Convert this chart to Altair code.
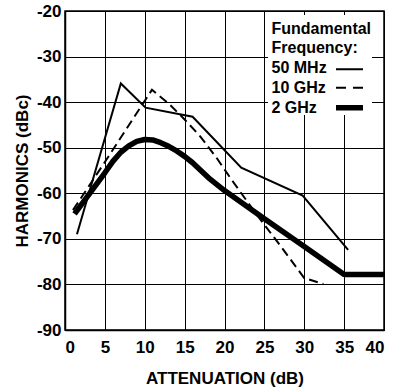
import altair as alt
import pandas as pd

# 50 MHz fundamental (thin solid)
mhz50_x = [1.5, 7.0, 10.1, 16.0, 22.1, 29.8, 35.5]
mhz50_y = [-69.0, -35.9, -41.2, -43.2, -54.4, -60.5, -72.4]

# 10 GHz fundamental (dashed)
ghz10_x = [1.0, 4.75, 10.9, 13.0, 15.0, 17.0, 19.0, 21.0, 24.0, 27.0, 30.0, 32.4]
ghz10_y = [-63.7, -53.8, -37.3, -40.3, -43.8, -47.6, -52.2, -57.3, -64.6, -71.5, -78.6, -79.9]

# 2 GHz fundamental (thick solid)
ghz2_x = [1.2, 3.1, 5.0, 6.0, 7.0, 8.0, 9.0, 10.0, 11.0, 12.0, 13.0, 14.0, 15.0, 16.0,
          18.0, 20.0, 25.0, 30.0, 35.0, 40.0]
ghz2_y = [-64.5, -60.0, -55.5, -53.0, -51.0, -49.6, -48.6, -48.2, -48.3, -48.9, -49.7,
          -50.7, -51.9, -53.3, -56.6, -59.4, -65.6, -71.7, -77.8, -77.8]

x_ticks = [0, 5, 10, 15, 20, 25, 30, 35, 40]
y_ticks = [-90, -80, -70, -60, -50, -40, -30, -20]

legend_title = ["Fundamental", "Frequency:"]
series_names = ["50 MHz", "10 GHz", "2 GHz"]

rows = []
for name, xs, ys in [("50 MHz", mhz50_x, mhz50_y), ("10 GHz", ghz10_x, ghz10_y), ("2 GHz", ghz2_x, ghz2_y)]:
    for i, (a, b) in enumerate(zip(xs, ys)):
        rows.append({"series": name, "att": a, "harm": b, "order": i})
df = pd.DataFrame(rows)

FONT = "Liberation Sans"

xenc = alt.X("att:Q", scale=alt.Scale(domain=[0, 40], nice=False),
             axis=alt.Axis(values=x_ticks, title="ATTENUATION (dB)", labelPadding=9,
                           titlePadding=15, labelExpr="'' + datum.value"))
yenc = alt.Y("harm:Q", scale=alt.Scale(domain=[-90, -20], nice=False),
             axis=alt.Axis(values=y_ticks, title="HARMONICS (dBc)", labelPadding=4,
                           titlePadding=5, labelExpr="'' + datum.value"))

base = alt.Chart(df).encode(x=xenc, y=yenc, order="order:Q")

l50 = base.transform_filter(alt.datum.series == "50 MHz").mark_line(color="black", strokeWidth=2)
l10 = base.transform_filter(alt.datum.series == "10 GHz").mark_line(color="black", strokeWidth=2, strokeDash=[9, 5])
l2 = base.transform_filter(alt.datum.series == "2 GHz").mark_line(color="black", strokeWidth=5.5, strokeJoin="round")

one = pd.DataFrame({"k": [0]})
leg_box = alt.Chart(one).mark_rect(fill="white").encode(
    x=alt.value(203), x2=alt.value(307), y=alt.value(4), y2=alt.value(104))

text_layers = []
lines = legend_title + series_names
baselines = [23, 42.3, 62.3, 82, 101.5]
for t, yb in zip(lines, baselines):
    text_layers.append(
        alt.Chart(one).mark_text(text=t, align="left", baseline="alphabetic", font=FONT,
                                 fontSize=16, fontWeight="bold", color="black")
        .encode(x=alt.value(206.5), y=alt.value(yb)))

sample_y = [58.3, 76.7, 96.7]
sample_dash = [[1, 0], [10, 7], [1, 0]]
sample_w = [2, 2, 5.5]
rule_layers = []
for yv, d, w in zip(sample_y, sample_dash, sample_w):
    rule_layers.append(
        alt.Chart(one).mark_rule(color="black", strokeWidth=w, strokeDash=d, strokeCap="butt")
        .encode(x=alt.value(271), x2=alt.value(298), y=alt.value(yv)))

chart = alt.layer(leg_box, l10, l50, l2, *text_layers, *rule_layers).properties(
    width=319, height=319,
    padding={"left": 65, "top": 11, "right": 12, "bottom": 60},
    autosize=alt.AutoSizeParams(type="none"),
    background="white",
).configure_view(stroke="black", strokeWidth=1.5).configure_axis(
    grid=True, gridColor="black", gridOpacity=1, gridWidth=1,
    domain=True, domainColor="black", domainWidth=1.5,
    ticks=False,
    labelFont=FONT, labelFontSize=17, labelFontWeight="bold", labelColor="black",
    titleFont=FONT, titleFontSize=17, titleFontWeight="bold", titleColor="black",
)

chart.save("out.html", embed_options={"renderer": "svg", "actions": False})
